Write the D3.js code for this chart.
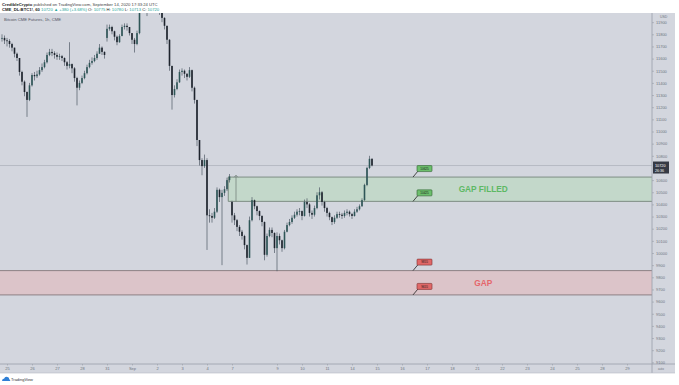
<!DOCTYPE html>
<html>
<head>
<meta charset="utf-8">
<script src="https://cdnjs.cloudflare.com/ajax/libs/d3/7.8.5/d3.min.js"></script>
<style>
  body { margin: 0; background: #fff; }
  svg text { font-family: "Liberation Sans", Arial, sans-serif; }
</style>
</head>
<body>
<div id="chart"></div>
<script>
// hourly-ish CME bars (2 bars ~ 5 hours)
const closes = [
  11770, 11750, 11745, 11720, 11690, 11640, 11605, 11490, 11410, 11325,
  11260, 11380, 11465, 11455, 11470, 11505, 11530, 11570, 11630, 11655,
  11645, 11630, 11615, 11620, 11605, 11570, 11540, 11555, 11520, 11440,
  11360, 11400, 11440, 11480, 11530, 11565, 11580, 11605, 11640, 11690,
  11655, 11630, 11845, 11860, 11825, 11780, 11735, 11785, 11860, 11870,
  11860, 11810, 11755, 11720, 11810, 11985, 12060, 12050, 12020, 12070,
  12100, 12090, 12060, 11985, 11935, 11870, 11755, 11540, 11300, 11350,
  11405, 11490, 11500, 11475, 11450, 11505, 11360, 11260, 10930, 10765,
  10715, 10765, 10310, 10305, 10290, 10340, 10520, 10460, 10495, 10525,
  10600, 10630, 10310, 10270, 10215, 10175, 10140, 10065, 9960, 10270,
  10435, 10385, 10345, 10305, 10255, 9985, 10140, 10190, 10165, 10040,
  10140, 10105, 10040, 10175, 10230, 10255, 10290, 10315, 10340, 10345,
  10305, 10420, 10400, 10330, 10315, 10370, 10475, 10500, 10420, 10370,
  10330, 10295, 10255, 10290, 10320, 10315, 10305, 10330, 10340, 10320,
  10305, 10340, 10360, 10385, 10435, 10560, 10700, 10775, 10720
];
const highs = [
  11800, 11790, 11770, 11760, 11730, 11690, 11650, 11600, 11500, 11420,
  11330, 11400, 11480, 11490, 11500, 11530, 11560, 11590, 11650, 11680,
  11680, 11660, 11650, 11640, 11630, 11610, 11580, 11735, 11560, 11530,
  11450, 11420, 11460, 11500, 11550, 11590, 11610, 11630, 11660, 11720,
  11700, 11660, 11880, 11880, 11870, 11830, 11790, 11800, 11880, 11890,
  11890, 11860, 11810, 11770, 11830, 12030, 12100, 12090, 12060, 12110,
  12140, 12130, 12100, 12060, 11990, 11940, 11870, 11760, 11540, 11380,
  11430, 11510, 11520, 11510, 11480, 11530, 11510, 11370, 11260, 10930,
  10780, 10810, 10780, 10360, 10330, 10370, 10540, 10530, 10520, 10550,
  10620, 10650, 10430, 10330, 10280, 10230, 10190, 10150, 10070, 10300,
  10460, 10440, 10390, 10350, 10310, 10260, 10160, 10210, 10210, 10170,
  10170, 10160, 10110, 10190, 10250, 10280, 10310, 10340, 10360, 10370,
  10350, 10440, 10450, 10410, 10350, 10390, 10500, 10540, 10510, 10430,
  10380, 10340, 10300, 10310, 10340, 10340, 10330, 10350, 10360, 10350,
  10330, 10360, 10380, 10400, 10450, 10570, 10710, 10800, 10780
];
const lows = [
  11740, 11720, 11700, 11690, 11660, 11610, 11580, 11460, 11380, 11290,
  11120, 11250, 11370, 11420, 11440, 11460, 11490, 11520, 11560, 11620,
  11620, 11600, 11590, 11590, 11580, 11540, 11510, 11520, 11480, 11410,
  11215, 11340, 11390, 11430, 11470, 11520, 11550, 11570, 11590, 11640,
  11630, 11600, 11740, 11830, 11800, 11750, 11710, 11730, 11790, 11840,
  11830, 11790, 11720, 11650, 11710, 11800, 11980, 12010, 11950, 12010,
  12060, 12050, 12020, 11960, 11900, 11840, 11720, 11500, 11180, 11280,
  11340, 11400, 11460, 11440, 11420, 11440, 11330, 11230, 10880, 10720,
  10640, 10700, 10025, 10250, 10250, 10280, 10330, 10420, 9900, 10470,
  10510, 10580, 10250, 10230, 10180, 10140, 10110, 10030, 9905, 9960,
  10260, 10360, 10310, 10270, 10220, 9940, 9970, 10130, 10130, 10000,
  9850, 10070, 10010, 10030, 10170, 10220, 10240, 10280, 10300, 10310,
  10270, 10300, 10370, 10300, 10280, 10300, 10360, 10440, 10390, 10340,
  10300, 10270, 10230, 10240, 10280, 10290, 10280, 10290, 10310, 10300,
  10280, 10300, 10330, 10350, 10380, 10430, 10550, 10690, 10713
];
// sunday opens after the weekend gaps [bar, price]
const weekendOpens = [[42, 11770], [92, 10420]];

const dayLabels = ["25","26","27","28","31","Sep","2","3","4","7","9","10","11","14","15","16","17","18","21","22","23","24","25","28","29"];
const dayBars = [2,12,22,32,42,52,62,72,82,92,110,120,130,140,150,160,170,180,190,200,210,220,230,240,250];

const lastPrice = 10720;
// the 10700 label sits under the last-price badge
const priceTicks = d3.range(9100, 12000, 100).filter(p => Math.abs(p - lastPrice) > 50);

// the two CME gaps
const gapFilled = { top: 10625, bottom: 10425, start: 90.5, tags: ["10625", "10425"] };
const gapOpen = { top: 9855, bottom: 9655, start: -2, tags: ["9855", "9655"] };
const tagBar = 164.4;
const textBar = 192.5;

const W = 679, H = 385;
const pLeft = 0, pRight = 652, pTop = 13, pBottom = 364;

let svg = d3.select("#chart").append("svg")
  .attr("width", W).attr("height", H);

svg.append("rect").attr("width", W).attr("height", H).attr("fill", "#fff");
// chart + axes panel
svg.append("rect")
  .attr("x", 0).attr("y", pTop).attr("width", 675).attr("height", 373 - pTop)
  .attr("fill", "#d3d6de");

let x = d3.scaleLinear().domain([0, 100]).range([2, 252]);
let y = d3.scaleLinear().domain([10000, 12000]).range([253, 10]);

svg.append("clipPath").attr("id", "clip")
  .append("rect").attr("x", pLeft).attr("y", pTop)
  .attr("width", pRight - pLeft).attr("height", pBottom - pTop);

let plot = svg.append("g").attr("clip-path", "url(#clip)");

// gap boxes
function gapBox(g, fill, line) {
  let x0 = x(g.start);
  plot.append("rect")
    .attr("x", x0).attr("y", y(g.top))
    .attr("width", pRight - x0).attr("height", y(g.bottom) - y(g.top))
    .attr("fill", fill);
  [g.top, g.bottom].forEach(p => {
    plot.append("line")
      .attr("x1", x0).attr("x2", pRight)
      .attr("y1", y(p)).attr("y2", y(p))
      .attr("stroke", line).attr("stroke-width", 0.9);
  });
  plot.append("line")
    .attr("x1", x0).attr("x2", x0)
    .attr("y1", y(g.top)).attr("y2", y(g.bottom))
    .attr("stroke", line).attr("stroke-width", 0.9);
}
gapBox(gapFilled, "#c3d8ca", "#75857b");
gapBox(gapOpen, "#dcc4c9", "#85777b");

// little range marker in the filled gap
let mx = x(93.6);
plot.append("line")
  .attr("x1", mx).attr("x2", mx)
  .attr("y1", y(10640)).attr("y2", y(gapFilled.bottom))
  .attr("stroke", "#6b7a72").attr("stroke-width", 0.7);
plot.append("path")
  .attr("d", `M${mx - 2},${y(10640) + 2} L${mx},${y(10640)} L${mx + 2},${y(10640) + 2}`)
  .attr("fill", "none").attr("stroke", "#6b7a72").attr("stroke-width", 0.6);

// last price line
plot.append("line")
  .attr("x1", pLeft).attr("x2", pRight)
  .attr("y1", y(lastPrice)).attr("y2", y(lastPrice))
  .attr("stroke", "#a2a8b2").attr("stroke-width", 0.6);

// candles
let bars = closes.map((c, i) => {
  let o = i === 0 ? c : closes[i - 1];
  let w = weekendOpens.find(d => d[0] === i);
  if (w) o = w[1];
  return { i: i, o: o, h: highs[i], l: lows[i], c: c };
});

plot.selectAll(".wick").data(bars).join("line")
  .attr("class", "wick")
  .attr("x1", d => x(d.i)).attr("x2", d => x(d.i))
  .attr("y1", d => y(d.h)).attr("y2", d => y(d.l))
  .attr("stroke", "#4f5966").attr("stroke-width", 0.7);

plot.selectAll(".body").data(bars).join("rect")
  .attr("class", "body")
  .attr("x", d => x(d.i) - 0.8)
  .attr("width", 1.6)
  .attr("y", d => y(Math.max(d.o, d.c)))
  .attr("height", d => Math.max(0.8, Math.abs(y(d.o) - y(d.c))))
  .attr("fill", d => d.c >= d.o ? "#2e5657" : "#1d232c");

// gap tags
function tags(g, fill, stroke) {
  [g.top, g.bottom].forEach((p, k) => {
    let tx = x(tagBar), ty = y(p);
    plot.append("line")
      .attr("x1", tx).attr("y1", ty)
      .attr("x2", tx + 5).attr("y2", ty - 6)
      .attr("stroke", "#222").attr("stroke-width", 0.8);
    plot.append("rect")
      .attr("x", tx + 4).attr("y", ty - 11.5)
      .attr("width", 15).attr("height", 6).attr("rx", 0.8)
      .attr("fill", fill).attr("stroke", stroke).attr("stroke-width", 0.6);
    plot.append("text")
      .attr("x", tx + 11.5).attr("y", ty - 7.3)
      .attr("text-anchor", "middle")
      .attr("font-size", 3).attr("fill", "#1a1a1a")
      .text(g.tags[k]);
  });
}
tags(gapFilled, "#6cbf6c", "#2f5f31");
tags(gapOpen, "#e06868", "#7c2c2c");

plot.append("text")
  .attr("x", x(textBar)).attr("y", (y(gapFilled.top) + y(gapFilled.bottom)) / 2 + 3)
  .attr("text-anchor", "middle")
  .attr("font-size", 8.3).attr("font-weight", 600).attr("fill", "#5db864")
  .text("GAP FILLED");
plot.append("text")
  .attr("x", x(textBar)).attr("y", (y(gapOpen.top) + y(gapOpen.bottom)) / 2 + 3)
  .attr("text-anchor", "middle")
  .attr("font-size", 8.3).attr("font-weight", 600).attr("fill", "#e5666b")
  .text("GAP");

// axes frame
svg.append("line").attr("x1", pRight).attr("x2", pRight).attr("y1", pTop).attr("y2", 373)
  .attr("stroke", "#9aa0aa").attr("stroke-width", 0.8);
svg.append("line").attr("x1", 0).attr("x2", 675).attr("y1", pBottom).attr("y2", pBottom)
  .attr("stroke", "#9aa0aa").attr("stroke-width", 0.8);
svg.append("line").attr("x1", 0).attr("x2", 675).attr("y1", 373).attr("y2", 373)
  .attr("stroke", "#b6bac2").attr("stroke-width", 0.6);

// price axis
let yAxis = svg.append("g")
  .attr("transform", `translate(${pRight},0)`)
  .call(d3.axisRight(y).tickValues(priceTicks).tickSize(2).tickPadding(2).tickFormat(d => d));
yAxis.select(".domain").remove();
yAxis.selectAll("line").attr("stroke", "#8e949e").attr("stroke-width", 0.5);
yAxis.selectAll("text").attr("font-size", 4).attr("fill", "#6f7580")
  .attr("font-family", "Liberation Sans, Arial, sans-serif");

svg.append("text").attr("x", 660).attr("y", 18)
  .attr("font-size", 3.5).attr("fill", "#6f7580").text("USD");

// last price label
let ly = y(lastPrice);
svg.append("rect").attr("x", pRight + 1).attr("y", ly - 4)
  .attr("width", 16).attr("height", 12).attr("fill", "#363a45");
svg.append("text").attr("x", pRight + 3).attr("y", ly + 1)
  .attr("font-size", 3.8).attr("fill", "#fff").text(lastPrice);
svg.append("text").attr("x", pRight + 3).attr("y", ly + 6.6)
  .attr("font-size", 3.6).attr("fill", "#fff").text("26:36");

// time axis
let xAxis = svg.append("g")
  .attr("transform", `translate(0,${pBottom})`)
  .call(d3.axisBottom(x).tickValues(dayBars).tickSize(1.5).tickPadding(1.5)
    .tickFormat((d, i) => dayLabels[i]));
xAxis.select(".domain").remove();
xAxis.selectAll("line").attr("stroke", "#8e949e").attr("stroke-width", 0.5);
xAxis.selectAll("text").attr("font-size", 4).attr("fill", "#6f7580")
  .attr("font-family", "Liberation Sans, Arial, sans-serif");

svg.append("text").attr("x", 658).attr("y", 370)
  .attr("font-size", 3).attr("fill", "#6f7580").text("auto");

// header
svg.append("text").attr("x", 2).attr("y", 5.5).attr("font-size", 4.2).attr("fill", "#222")
  .call(t => {
    t.append("tspan").attr("font-weight", "bold").text("CredibleCrypto");
    t.append("tspan").attr("fill", "#444").text(" published on TradingView.com, September 14, 2020 17:33:24 UTC");
  });
svg.append("text").attr("x", 2).attr("y", 11).attr("font-size", 4.2).attr("fill", "#222")
  .call(t => {
    const up = "#26a69a";
    t.append("tspan").attr("font-weight", "bold").text("CME_DL:BTC1!, 60 ");
    t.append("tspan").attr("fill", up).text("10720 \u25B2 +380 (+3.68%) ");
    t.append("tspan").text("O: ");
    t.append("tspan").attr("fill", up).text("10775 ");
    t.append("tspan").text("H: ");
    t.append("tspan").attr("fill", up).text("10780 ");
    t.append("tspan").text("L: ");
    t.append("tspan").attr("fill", up).text("10713 ");
    t.append("tspan").text("C: ");
    t.append("tspan").attr("fill", up).text("10720");
  });
svg.append("text").attr("x", 4).attr("y", 20.5).attr("font-size", 4.2).attr("fill", "#50535e")
  .text("Bitcoin CME Futures, 1h, CME");

// footer logo
let logo = svg.append("g").attr("transform", "translate(2,376)");
logo.append("path")
  .attr("d", "M0,5 Q0,2.5 2.2,2.5 Q3,0 5.5,1 Q7.5,1.5 7.2,3.2 Q8.6,3.6 8.2,5 Z")
  .attr("fill", "#2f7fd6");
svg.append("text").attr("x", 11).attr("y", 381).attr("font-size", 4).attr("fill", "#333")
  .text("TradingView");
</script>
</body>
</html>
